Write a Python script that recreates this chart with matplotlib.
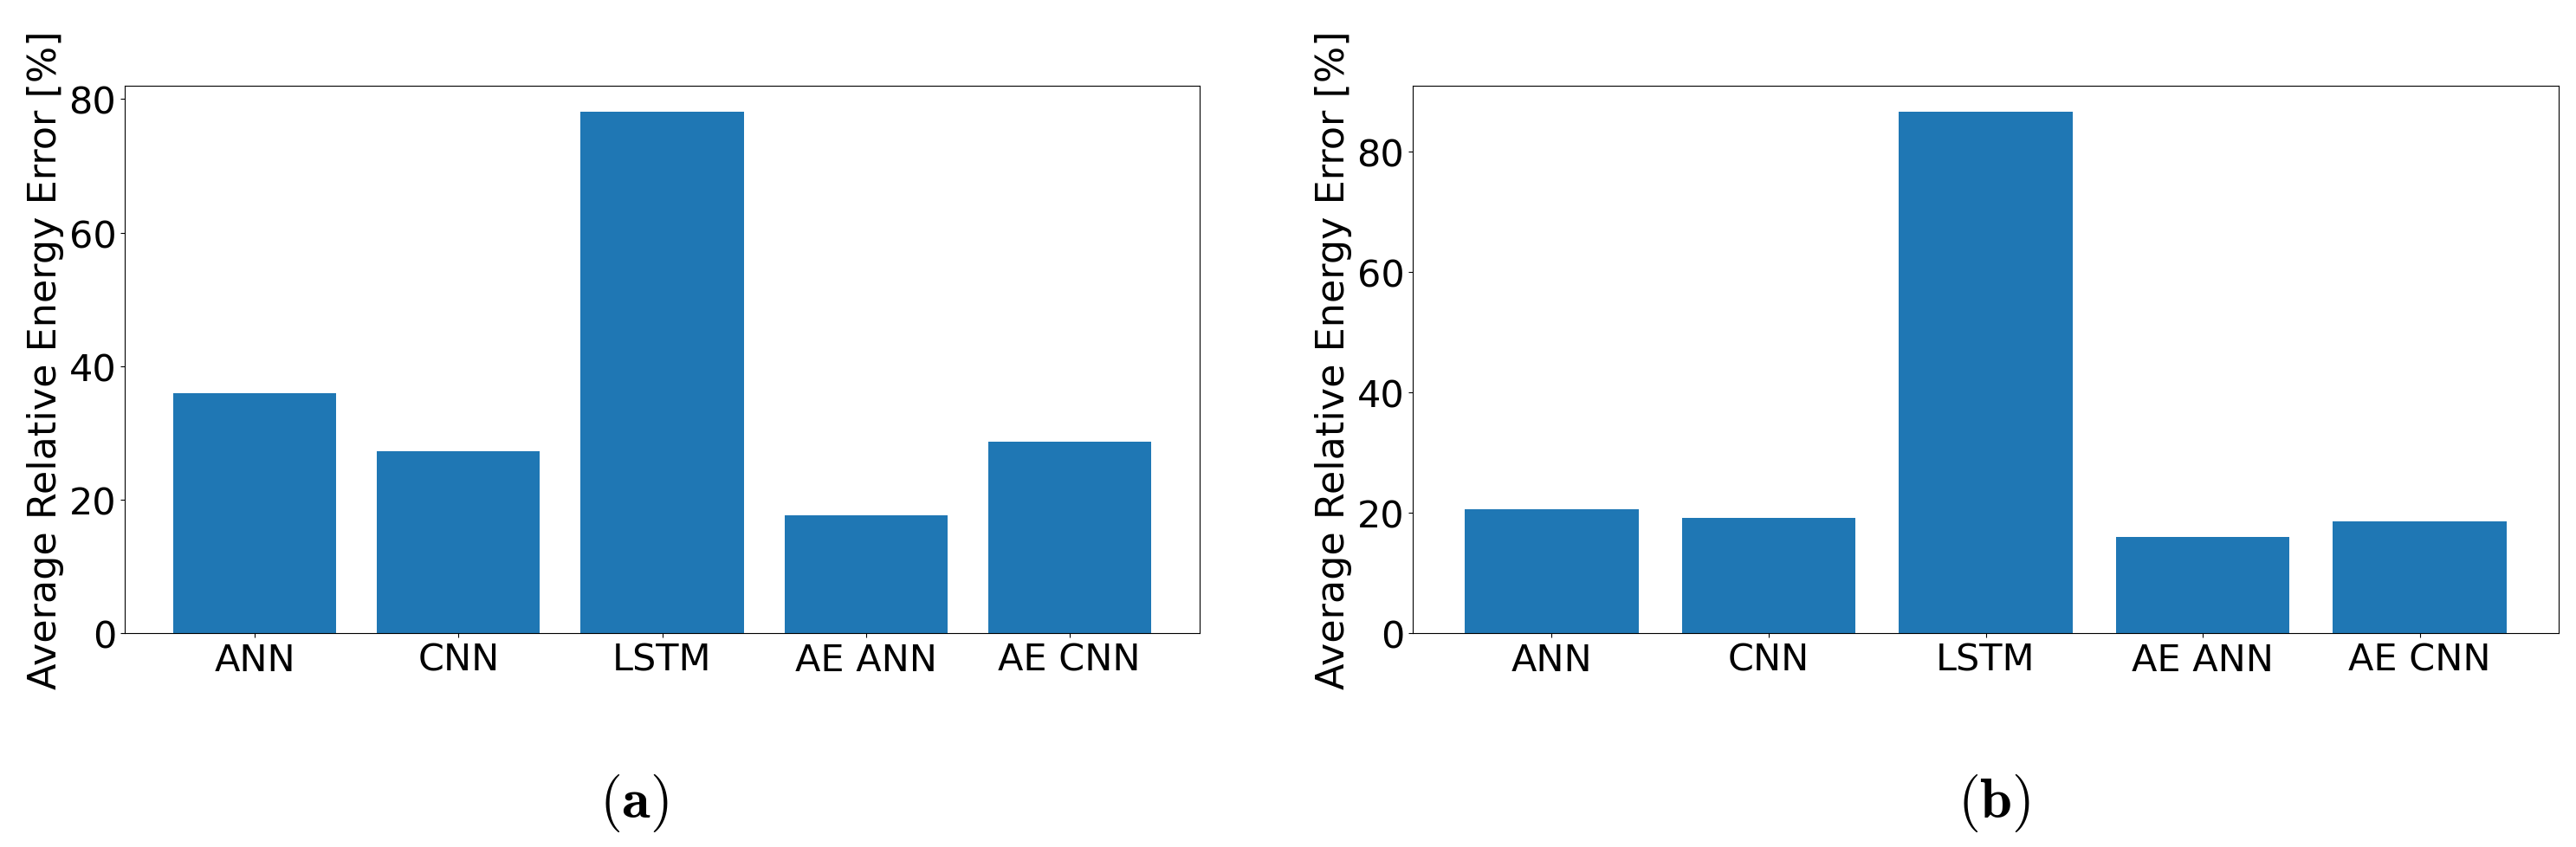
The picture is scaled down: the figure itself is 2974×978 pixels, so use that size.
import numpy as np
import matplotlib
matplotlib.use('Agg')
import matplotlib.pyplot as plt

models = ['ANN', 'CNN', 'LSTM', 'AE ANN', 'AE CNN']
err_a = [36.0, 27.3, 78.1, 17.6, 28.7]
err_b = [20.6, 19.2, 86.6, 15.9, 18.5]
captions = [r'$\mathbf{(a)}$', r'$\mathbf{(b)}$']
cap_x = [732/2974, 2302/2974]

fig = plt.figure(figsize=(29.74, 9.79), dpi=100)
ax_a = fig.add_axes([144/2974, 1-732/979, (1385-144)/2974, (732-100)/979])
ax_b = fig.add_axes([1631/2974, 1-732/979, (2954-1631)/2974, (732-100)/979])

for ax, vals, cap, cx in zip([ax_a, ax_b], [err_a, err_b], captions, cap_x):
    x = np.arange(len(models))
    ax.bar(x, vals, color='#1f77b4')
    ax.set_xticks(x)
    ax.set_xticklabels(models, fontsize=31)
    ax.tick_params(axis='y', labelsize=31)
    ax.set_ylabel('Average Relative Energy Error [%]', fontsize=32)
    fig.text(cx, 1-928/979, cap, fontsize=48, math_fontfamily='cm',
             ha='center', va='center')

fig.savefig('out.png', dpi=100)
